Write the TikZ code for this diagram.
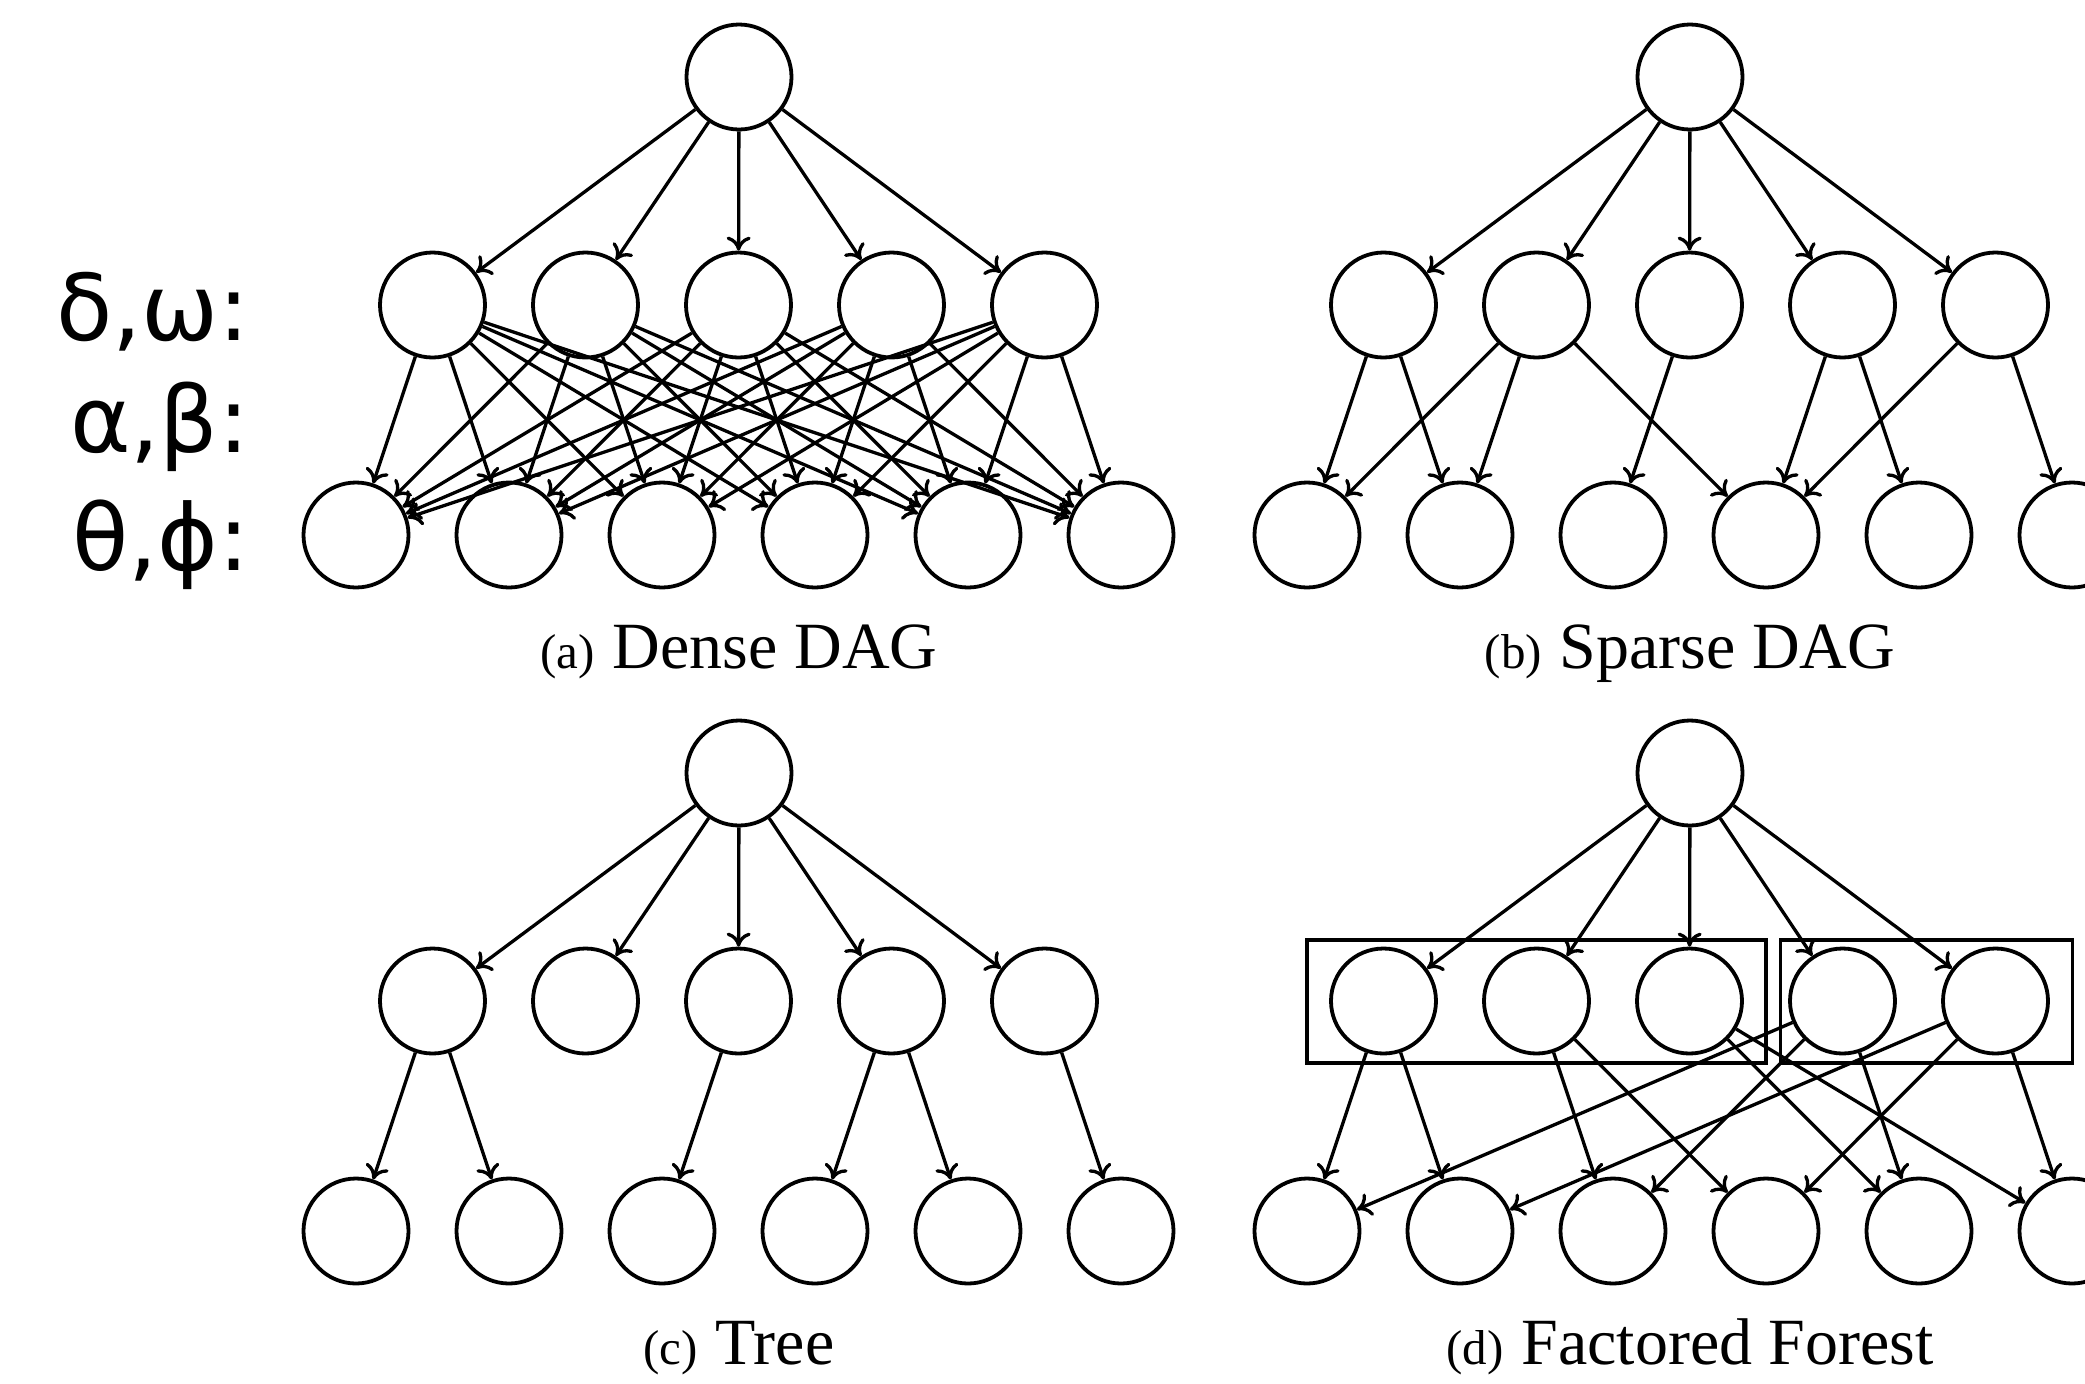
\documentclass[tikz,border=0pt]{standalone}
\usepackage{fontspec}
\setmainfont{Liberation Serif}
\newfontfamily\labelfont{DejaVu Sans}
\usetikzlibrary{arrows.meta}
\newcommand\mkpanel[3]{%
  \node[nd] (#1t) at ({739+#2},{77+#3}) {};
  \foreach \i in {1,...,5} {\node[nd] (#1m\i) at ({432.5+153*(\i-1)+#2},{305+#3}) {};}
  \foreach \j in {1,...,6} {\node[nd] (#1b\j) at ({356+153*(\j-1)+#2},{535+#3}) {};}
  \foreach \i in {1,...,5} {\draw[edge] (#1t) -- (#1m\i);}
}
\begin{document}
\begin{tikzpicture}[x=0.5pt,y=-0.5pt,
  nd/.style={circle,draw,line width=1.9pt,minimum size=52.5pt,inner sep=0pt},
  edge/.style={line width=1.65pt,-{To[length=7pt,width=12pt]}},
  grp/.style={draw,line width=1.9pt,rectangle,inner sep=0pt},
  captxt/.style={anchor=base,inner sep=0pt},
  lab/.style={anchor=base east,inner sep=0pt,font=\labelfont\fontsize{46}{54}\selectfont}]
\path[use as bounding box] (0,0) rectangle (2085,1383);
\clip (0,0) rectangle (2085,1383);

% labels
\node[lab] (l1) at (250,340) {δ,ω:};
\node[lab] (l2) at (250,452) {α,β:};
\node[lab] (l3) at (250,570) {θ,ϕ:};

% (a) dense DAG
\mkpanel{a}{0}{0}
\foreach \i in {1,...,5} {\foreach \j in {1,...,6} {\draw[edge] (am\i) -- (ab\j);}}
\node[captxt] (capa) at (739,668) {\fontsize{24.5}{28}\selectfont (a)\hspace{9pt}\fontsize{33}{39}\selectfont Dense DAG};

% (b) sparse DAG
\mkpanel{b}{951}{0}
\foreach \i/\j in {1/1,1/2,2/1,2/2,2/4,3/3,4/4,4/5,5/4,5/6} {\draw[edge] (bm\i) -- (bb\j);}
\node[captxt] (capb) at (1690,668) {\fontsize{24.5}{28}\selectfont (b)\hspace{9pt}\fontsize{33}{39}\selectfont Sparse DAG};

% (c) tree
\mkpanel{c}{0}{696}
\foreach \i/\j in {1/1,1/2,3/3,4/4,4/5,5/6} {\draw[edge] (cm\i) -- (cb\j);}
\node[captxt] (capc) at (739,1364) {\fontsize{24.5}{28}\selectfont (c)\hspace{9pt}\fontsize{33}{39}\selectfont Tree};

% (d) factored forest
\mkpanel{d}{951}{696}
\node[grp,minimum width=229.5pt,minimum height=61.5pt] (g1) at (1536.5,1001.5) {};
\node[grp,minimum width=146pt,minimum height=61.5pt] (g2) at (1926.5,1001.5) {};
\foreach \i/\j in {1/1,1/2,2/3,2/4,3/5,3/6,4/1,4/3,4/5,5/2,5/4,5/6} {\draw[edge] (dm\i) -- (db\j);}
\node[captxt] (capd) at (1690,1364) {\fontsize{24.5}{28}\selectfont (d)\hspace{9pt}\fontsize{33}{39}\selectfont Factored Forest};
\end{tikzpicture}
\end{document}
